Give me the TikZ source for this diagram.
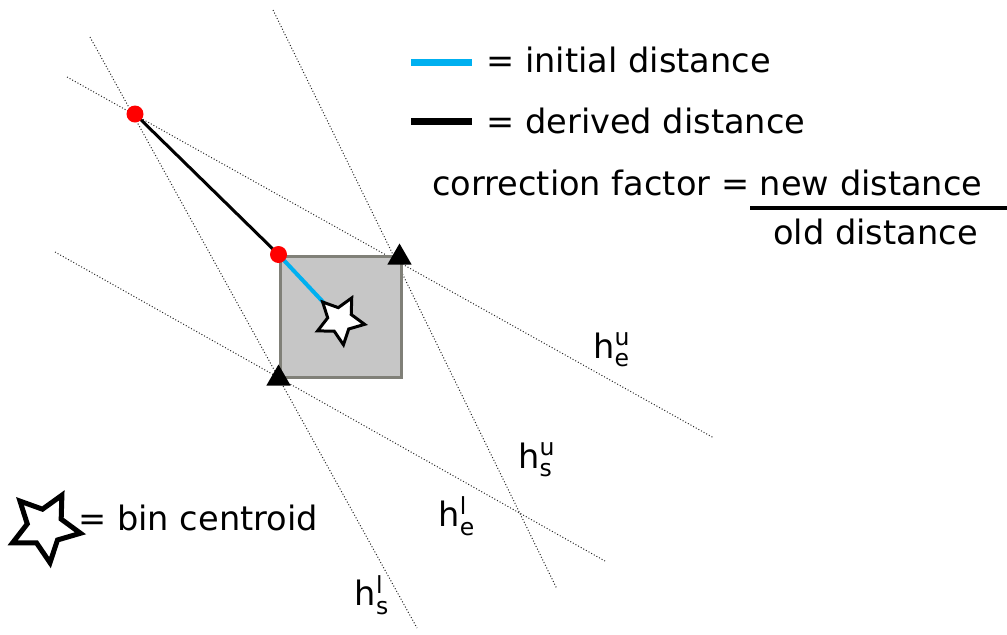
\documentclass[tikz,border=0pt]{standalone}
\usepackage{amsmath}
\usepackage{fontspec}
\setmainfont{DejaVu Sans}
\usetikzlibrary{shapes.geometric}
\definecolor{initblue}{RGB}{0,176,240}
\definecolor{binfill}{RGB}{198,198,198}
\definecolor{binedge}{RGB}{128,128,120}

\begin{document}
\begin{tikzpicture}[x=0.5pt,y=-0.5pt,font=\fontsize{16.8}{20}\selectfont,
  hline/.style={black!85,line width=0.5pt,densely dotted},
  corner/.style={regular polygon,regular polygon sides=3,fill=black,inner sep=0pt,minimum size=14pt},
  reddot/.style={circle,fill=red,inner sep=0pt,minimum size=8.5pt},
  centroid/.style={star,star points=5,star point ratio=2,draw=black,fill=white,shape border rotate=-28,inner sep=0pt},
  legtext/.style={anchor=west,inner sep=0pt}]
  \useasboundingbox (0,0) rectangle (1007,634);

  % the four boundary lines
  \foreach \n/\xa/\ya/\xb/\yb in {eu/67/77/714/438,su/273/10/557/589,el/55/252/605/561,sl/90/37/417/628}{
    \draw[hline] (\xa,\ya) coordinate (\n-start) -- (\xb,\yb) coordinate (\n-end);}
  \foreach \n/\x/\y/\s/\t in {eu/612/350/e/u,su/537/460/s/u,el/457/516/e/l,sl/372/595/s/l}{
    \node (lab-\n) at (\x,\y) {h$^{\text{\t}}_{\text{\s}}$};}

  % grid bin
  \node[draw=binedge,fill=binfill,line width=1.5pt,minimum size=60.5pt,inner sep=0pt] (bin) at (340.5,316.5) {};
  \coordinate (far) at (135,114);
  \coordinate (binc) at (340,320);
  \draw[line width=1.5pt] (far) -- (bin.north west);
  \draw[initblue,line width=2pt] (bin.north west) -- (binc);
  \node[centroid,line width=1.5pt,minimum size=25pt] (cent) at (binc) {};
  \node[reddot] (dot-far) at (far) {};
  \node[reddot] (dot-near) at (bin.north west) {};
  \node[corner] (tri-ur) at ([xshift=-1.5pt,yshift=-1.5pt]bin.north east) {};
  \node[corner] (tri-ll) at (bin.south west) {};

  % legend
  \draw[initblue,line width=3.5pt] (411,62) coordinate (bar-a) -- (472,62) coordinate (bar-b);
  \node[legtext] (leg-init) at (486,60) {= initial distance};
  \draw[line width=3.5pt] (411,121) coordinate (bar-c) -- (472,121) coordinate (bar-d);
  \node[legtext] (leg-der) at (486,121) {= derived distance};
  \node[legtext] (leg-corr) at (432,183) {correction factor = new distance};
  \draw[line width=2pt] (750,208) coordinate (frac-a) -- (1007,208) coordinate (frac-b);
  \node[legtext] (leg-old) at (773,232) {old distance};
  \node[centroid,line width=2.5pt,minimum size=36pt] (leg-star) at (45,527) {};
  \node[legtext] (leg-bin) at (78,518) {= bin centroid};
\end{tikzpicture}
\end{document}
